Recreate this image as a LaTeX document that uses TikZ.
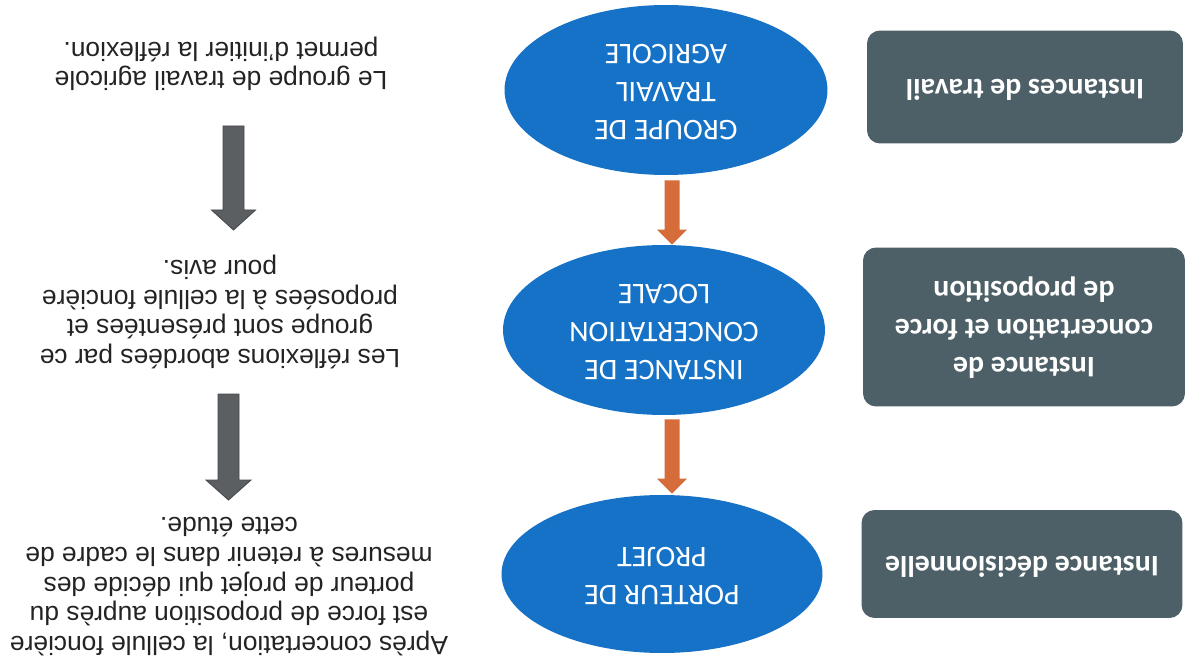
\documentclass[tikz,border=0pt]{standalone}
\usepackage{fontspec}
\setmainfont{Liberation Sans}
\newfontfamily\carlito{Carlito}
\usepackage{graphicx}
\usetikzlibrary{shapes.geometric,calc}
\definecolor{slate}{RGB}{77,96,103}
\definecolor{oblue}{RGB}{22,114,198}
\definecolor{oorange}{RGB}{214,108,58}
\definecolor{agray}{RGB}{92,95,98}
\definecolor{agrayd}{RGB}{70,72,75}
\definecolor{tgray}{RGB}{35,35,35}
\newcommand\upside[1]{\rotatebox[origin=c]{180}{\begin{tabular}{@{}c@{}}#1\end{tabular}}}
\newcommand\blockarr[6]{\filldraw[#6] ($(#1)+(-#3,0)$) -- ($(#2)+(-#3,-#5)$) -- ($(#2)+(-#4,-#5)$) -- (#2) -- ($(#2)+(#4,-#5)$) -- ($(#2)+(#3,-#5)$) -- ($(#1)+(#3,0)$) -- cycle;}
\begin{document}
\begin{tikzpicture}[x=0.02cm,y=-0.02cm,
  rbox/.style={fill=slate, rounded corners=0.26cm, text=white, inner sep=0pt,
    font=\carlito\bfseries\fontsize{17}{21.6}\selectfont},
  oval/.style={ellipse, fill=oblue, text=white, inner sep=0pt,
    font=\carlito\fontsize{17}{21.6}\selectfont},
  note/.style={text=tgray, inner sep=0pt, font=\fontsize{15}{17}\selectfont},
  oarrow/.style={fill=oorange, draw=none},
  garrow/.style={fill=agray, draw=agrayd, line width=0.5pt}]
\useasboundingbox[fill=white] (0,0) rectangle (1194,662);

% boxes
\node[rbox, minimum width=6.32cm, minimum height=2.26cm] (b1) at (1025,87) {\upside{Instances de travail}};
\node[rbox, minimum width=6.44cm, minimum height=3.18cm] (b2) at (1024,327) {\upside{Instance de\\concertation et force\\de proposition}};
\node[rbox, minimum width=6.42cm, minimum height=2.16cm] (b3) at (1022,564) {\upside{Instance décisionnelle}};

% ellipses
\node[oval, minimum width=6.46cm, minimum height=3.4cm] (e1) at (666,90) {\upside{GROUPE DE\\TRAVAIL\\AGRICOLE}};
\node[oval, minimum width=6.44cm, minimum height=3.4cm] (e2) at (664,330) {\upside{INSTANCE DE\\CONCERTATION\\LOCALE}};
\node[oval, minimum width=6.42cm, minimum height=3.16cm] (e3) at (662,574) {\upside{PORTEUR DE\\PROJET}};

% orange arrows
\coordinate (o1s) at ($(e1.south)+(6,5)$);
\coordinate (o1e) at ($(e2.north)+(8,0)$);
\coordinate (o2s) at ($(e2.south)+(8,4)$);
\coordinate (o2e) at ($(e3.north)+(10,-1)$);
\blockarr{o1s}{o1e}{7.5}{15}{15}{oarrow}
\blockarr{o2s}{o2e}{7.5}{15}{15}{oarrow}

% texts
\node[note] (t1) at (221,63) {\upside{Le groupe de travail agricole\\permet d’initier la réflexion.}};
\node[note] (t2) at (220,311) {\upside{Les réflexions abordées par ce\\groupe sont présentées et\\proposées à la cellule foncière\\pour avis.}};
\node[note] (t3) at (229,583) {\upside{Après concertation, la cellule foncière\\est force de proposition auprès du\\porteur de projet qui décide des\\mesures à retenir dans le cadre de\\cette étude.}};

% gray arrows
\coordinate (g1s) at (233.5,126);
\coordinate (g1e) at (233.5,230);
\coordinate (g2s) at (228.5,394);
\coordinate (g2e) at (228.5,500);
\blockarr{g1s}{g1e}{10.5}{22}{20}{garrow}
\blockarr{g2s}{g2e}{10.5}{22.5}{20}{garrow}
\end{tikzpicture}
\end{document}
